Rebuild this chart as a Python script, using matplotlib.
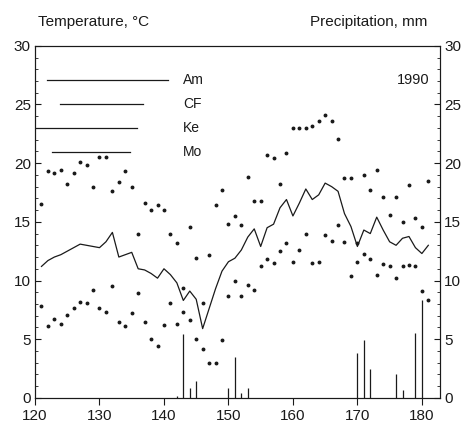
import numpy as np
import matplotlib
matplotlib.use("Agg")
import matplotlib.pyplot as plt
from matplotlib.lines import Line2D

nan = np.nan
plt.rcParams['font.family'] = ['Liberation Sans', 'DejaVu Sans']

days = list(range(120, 182))

# Am: solid line (temperature, degC)
am = [nan,
      11.2, 11.7, 12.0, 12.2, 12.5, 12.8, 13.1, 13.0, 12.9, 12.8,
      13.3, 14.1, 12.0, 12.2, 12.4, 11.0, 10.9, 10.6, 10.2, 11.0,
      10.5, 9.8, 8.3, 9.1, 8.4, 5.9, 7.6, 9.3, 10.8, 11.6,
      11.9, 12.6, 13.7, 14.4, 12.9, 14.5, 14.8, 16.2, 16.9, 15.5,
      16.6, 17.8, 16.9, 17.3, 18.3, 18.0, 17.6, 15.7, 14.6, 12.9,
      14.3, 14.0, 15.4, 14.3, 13.3, 13.0, 13.6, 13.75, 12.8, 12.3,
      13.0]

# CF: upper dots
cf = [nan,
      16.5, 19.3, 19.2, 19.4, 18.2, 19.2, 20.1, 19.8, 18.0, 20.5,
      20.5, 17.6, 18.4, 19.3, 18.0, 14.0, 16.6, 16.0, 16.4, 16.0,
      14.0, 13.2, 9.4, 14.6, 11.9, 8.1, 12.2, 16.4, 17.7, 14.8,
      15.5, 14.7, 18.8, 16.8, 16.8, 20.7, 20.4, 18.2, 20.9, 23.0,
      23.0, 23.0, 23.2, 23.6, 24.1, 23.6, 22.1, 18.7, 18.7, nan,
      19.0, 17.7, 19.4, 17.1, nan, 17.1, nan, 18.1, nan, nan,
      18.5]

# Ke: middle dots
ke = [nan,
      nan, nan, nan, nan, nan, nan, nan, nan, nan, nan,
      nan, nan, nan, nan, nan, nan, nan, nan, nan, nan,
      nan, nan, nan, nan, nan, nan, nan, nan, nan, nan,
      nan, nan, nan, nan, nan, nan, nan, 12.5, 13.2, nan,
      12.6, 14.0, nan, nan, 13.9, 13.4, 14.7, 13.3, nan, 13.2,
      nan, nan, nan, nan, 15.6, nan, 15.0, nan, 15.3, 14.6,
      nan]

# Mo: lower dots
mo = [nan,
      7.8, 6.1, 6.7, 6.3, 7.1, 7.7, 8.2, 8.1, 9.2, 7.7,
      7.3, 9.5, 6.5, 6.1, 7.2, 8.9, 6.5, 5.0, 4.4, 6.2,
      8.1, 6.3, 7.3, 6.6, 5.0, 4.2, 3.0, 3.0, 4.9, 8.7,
      10.0, 8.7, 9.6, 9.2, 11.2, 11.8, 11.5, nan, nan, 11.6,
      nan, nan, 11.5, 11.6, nan, nan, nan, nan, 10.4, 11.6,
      12.3, 11.8, 10.5, 11.4, 11.2, 10.2, 11.2, 11.3, 11.2, 9.1,
      8.3]

# precipitation, mm
prec_days = [142, 143, 144, 145, 150, 151, 152, 153, 170, 171, 172, 176, 177, 179, 180]
prec = [0.2, 5.4, 0.85, 1.4, 0.85, 3.5, 0.4, 0.85, 3.85, 4.95, 2.5, 2.05, 0.7, 5.5, 8.35]

x_ticks = [120, 130, 140, 150, 160, 170, 180]
y_ticks = [0, 5, 10, 15, 20, 25, 30]
labels = ["Am", "CF", "Ke", "Mo"]

fig = plt.figure(figsize=(4.67, 4.32), dpi=100)
ax = fig.add_axes([0.075, 0.079, 0.867, 0.815])
ax2 = ax.twinx()

ink = '#1a1a1a'
ax.plot(days, am, color=ink, lw=0.9)
for s in (cf, ke, mo):
    ax.plot(days, s, ls='none', marker='o', ms=1.8, color=ink, mec=ink)
ax2.vlines(prec_days, 0, prec, color=ink, lw=0.9)

ax.set_xlim(120, 182.8)
ax.set_ylim(0, 30)
ax2.set_ylim(0, 30)
ax.set_xticks(x_ticks)
ax.set_yticks(y_ticks)
ax2.set_yticks(y_ticks)
ax.set_yticks(range(0, 31), minor=True)
ax2.set_yticks(range(0, 31), minor=True)
ax.tick_params(axis='y', direction='in', length=4, width=0.8, labelsize=11, pad=3, colors=ink)
ax.tick_params(axis='y', which='minor', direction='in', length=2, width=0.6, colors=ink)
ax2.tick_params(axis='y', direction='in', length=4, width=0.8, labelsize=11, pad=3, colors=ink)
ax2.tick_params(axis='y', which='minor', direction='in', length=2, width=0.6, colors=ink)
ax.tick_params(axis='x', direction='out', length=5, width=0.8, labelsize=11, pad=3, colors=ink)
for a in (ax, ax2):
    for sp in a.spines.values():
        sp.set_linewidth(0.8)
        sp.set_color(ink)

# legend drawn as plain lines of differing length
leg_y = [0.903, 0.835, 0.767, 0.699]
leg_x0 = [0.030, 0.062, 0.0, 0.042]
leg_x1 = [0.328, 0.267, 0.252, 0.235]
for lab, yy, x0, x1 in zip(labels, leg_y, leg_x0, leg_x1):
    ax.add_line(Line2D([x0, x1], [yy, yy], transform=ax.transAxes, color=ink, lw=0.9))
    ax.text(0.365, yy, lab, transform=ax.transAxes, fontsize=10, va='center', ha='left', color=ink)

ax.text(0.975, 0.903, "1990", transform=ax.transAxes, fontsize=10.5, va='center', ha='right', color=ink)

fig.text(0.081, 0.949, "Temperature, °C", fontsize=11, ha='left', va='center', color=ink)
fig.text(0.915, 0.949, "Precipitation, mm", fontsize=11, ha='right', va='center', color=ink)

fig.savefig("out.png", dpi=100)
